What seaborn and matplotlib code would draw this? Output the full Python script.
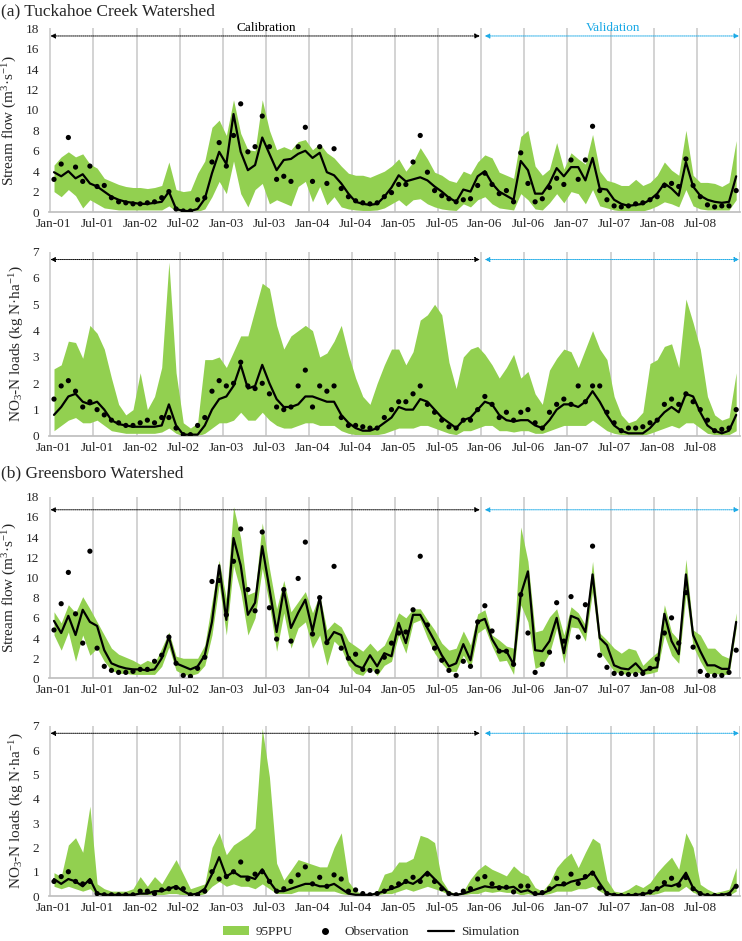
import numpy as np
import matplotlib.pyplot as plt
import seaborn as sns
from matplotlib.lines import Line2D
from matplotlib.patches import Patch

# month index 0 = Jan-01 ... 95 = Dec-08
tick_labels = ["Jan-01", "Jul-01", "Jan-02", "Jul-02", "Jan-03", "Jul-03", "Jan-04", "Jul-04",
               "Jan-05", "Jul-05", "Jan-06", "Jul-06", "Jan-07", "Jul-07", "Jan-08", "Jul-08"]

# (a) Tuckahoe Creek - stream flow
a_flow_obs = [3.2, 4.7, 7.3, 4.4, 3.0, 4.5, 2.5, 2.6, 1.4, 1.0, 0.9, 0.8,
              0.8, 0.9, 1.0, 1.4, 2.0, 0.3, 0.1, 0.1, 1.2, 1.4, 4.9, 6.8,
              4.5, 7.5, 10.6, 5.9, 6.4, 9.4, 6.4, 3.2, 3.5, 3.0, 6.4, 8.3,
              3.0, 6.4, 2.8, 6.2, 2.3, 1.5, 1.1, 0.9, 0.8, 0.9, 1.5, 1.9,
              2.7, 2.7, 4.9, 7.5, 3.9, 2.1, 1.6, 1.3, 1.0, 1.2, 1.3, 2.6,
              3.8, 2.7, 1.8, 2.1, 1.0, 5.8, 2.8, 1.0, 1.3, 2.4, 3.3, 2.7,
              5.1, 3.2, 5.1, 8.4, 2.1, 1.2, 0.6, 0.5, 0.6, 0.8, 0.9, 1.2,
              1.5, 2.6, 2.8, 2.5, 5.2, 2.6, 1.5, 0.7, 0.5, 0.6, 0.6, 2.1]
a_flow_sim = [3.9, 3.5, 4.0, 3.3, 3.7, 2.8, 2.5, 2.0, 1.5, 1.2, 1.0, 0.9,
              0.8, 0.8, 0.9, 1.0, 2.0, 0.3, 0.1, 0.1, 0.3, 1.3, 3.8, 5.9,
              4.7, 9.6, 5.9, 4.1, 4.6, 7.3, 5.7, 4.1, 5.1, 5.2, 5.7, 6.0,
              5.3, 5.8, 3.9, 3.6, 2.8, 1.8, 1.0, 0.8, 0.7, 0.8, 1.5, 2.4,
              3.6, 3.0, 3.2, 3.4, 3.1, 2.5, 2.0, 1.4, 1.0, 2.2, 2.0, 3.5,
              4.0, 2.8, 2.0, 1.6, 1.2, 5.0, 4.1, 1.8, 1.8, 2.8, 4.3, 3.5,
              4.4, 4.4, 3.1, 5.3, 2.3, 2.2, 1.2, 0.8, 0.6, 0.7, 0.8, 1.2,
              1.8, 2.8, 2.3, 1.6, 4.9, 2.5, 1.6, 1.2, 1.0, 0.9, 1.0, 3.5]
a_flow_hi = [4.6, 5.4, 5.9, 5.4, 5.7, 4.7, 4.3, 3.3, 3.0, 2.7, 2.5, 2.4,
             2.4, 2.3, 2.4, 2.6, 4.9, 2.2, 2.0, 2.1, 3.8, 5.0, 8.3, 9.0,
             7.5, 11.0, 7.7, 6.1, 6.0, 11.0, 8.0, 6.1, 6.4, 6.1, 6.9, 7.1,
             6.1, 6.7, 5.8, 5.3, 4.5, 3.8, 3.6, 3.6, 3.4, 3.7, 4.0, 4.5,
             5.2, 4.0, 4.9, 6.3, 5.2, 3.9, 3.6, 3.1, 2.9, 4.0, 3.7, 4.9,
             5.6, 5.3, 3.9, 3.6, 3.3, 7.4, 8.0, 4.5, 3.6, 4.2, 6.8, 4.2,
             5.8, 5.2, 4.7, 7.6, 4.0, 3.1, 2.9, 2.6, 2.6, 3.2, 2.6, 2.9,
             3.6, 4.9, 4.1, 3.6, 8.0, 3.6, 2.9, 2.9, 2.8, 2.5, 2.9, 7.0]
a_flow_lo = [2.0, 1.5, 2.2, 1.6, 0.4, 1.2, 0.8, 0.4, 0.3, 0.2, 0.2, 0.2,
             0.2, 0.2, 0.2, 0.2, 0.6, 0.05, 0.0, 0.0, 0.05, 0.3, 1.5, 3.0,
             1.8, 5.0, 1.8, 0.5, 2.2, 2.8, 0.8, 1.2, 0.9, 0.6, 2.5, 3.0,
             1.0, 2.5, 0.7, 1.5, 0.5, 0.3, 0.2, 0.15, 0.15, 0.2, 0.4, 0.8,
             1.2, 0.6, 1.2, 1.3, 0.8, 0.5, 0.3, 0.2, 0.15, 0.8, 0.5, 1.2,
             1.5, 0.8, 0.4, 0.3, 0.2, 1.8, 1.2, 0.3, 0.2, 0.9, 1.8, 0.9,
             2.0, 1.8, 0.8, 2.2, 0.6, 0.4, 0.2, 0.1, 0.1, 0.1, 0.1, 0.3,
             0.6, 1.0, 0.8, 0.5, 2.2, 0.6, 0.3, 0.2, 0.2, 0.2, 0.2, 1.2]

# (a) Tuckahoe Creek - NO3-N loads
a_no3_obs = [1.4, 1.9, 2.1, 1.7, 1.1, 1.3, 1.0, 0.8, 0.6, 0.5, 0.4, 0.4,
             0.5, 0.6, 0.5, 0.7, 0.7, 0.3, 0.05, 0.05, 0.4, 0.7, 1.7, 2.1,
             1.9, 2.0, 2.8, 1.9, 1.8, 2.0, 1.6, 1.1, 1.0, 1.1, 1.9, 2.5,
             1.1, 1.9, 1.7, 1.9, 0.7, 0.4, 0.4, 0.35, 0.3, 0.3, 0.7, 1.0,
             1.3, 1.3, 1.6, 1.9, 1.2, 0.9, 0.6, 0.35, 0.3, 0.6, 0.6, 1.0,
             1.5, 1.2, 0.7, 0.9, 0.6, 0.9, 1.0, 0.5, 0.3, 0.9, 1.2, 1.4,
             1.2, 1.9, 1.3, 1.9, 1.9, 0.9, 0.5, 0.2, 0.3, 0.3, 0.35, 0.5,
             0.6, 1.2, 1.4, 1.2, 1.6, 1.3, 1.0, 0.6, 0.2, 0.25, 0.3, 1.0]
a_no3_sim = [0.8, 1.1, 1.5, 1.6, 1.3, 1.2, 1.3, 1.0, 0.6, 0.45, 0.4, 0.35,
             0.35, 0.35, 0.35, 0.4, 1.2, 0.4, 0.05, 0.05, 0.05, 0.4, 1.0, 1.4,
             1.5, 1.9, 2.7, 1.8, 1.9, 2.7, 2.0, 1.4, 1.1, 1.1, 1.2, 1.5,
             1.5, 1.4, 1.3, 1.3, 0.8, 0.5, 0.3, 0.2, 0.2, 0.3, 0.5, 0.7,
             1.1, 1.0, 1.0, 1.4, 1.3, 1.0, 0.7, 0.5, 0.3, 0.6, 0.7, 1.0,
             1.3, 1.2, 0.8, 0.6, 0.55, 0.6, 0.6, 0.4, 0.3, 0.6, 1.0, 1.2,
             1.2, 1.1, 1.3, 1.7, 1.3, 0.8, 0.4, 0.2, 0.1, 0.1, 0.1, 0.3,
             0.6, 0.9, 1.1, 0.9, 1.6, 1.5, 0.9, 0.4, 0.2, 0.1, 0.2, 0.8]
a_no3_hi = [2.55, 2.7, 3.6, 3.55, 2.95, 4.2, 3.9, 3.3, 2.2, 1.2, 0.8, 1.0,
            2.4, 1.0, 1.5, 2.6, 6.6, 2.4, 0.5, 0.3, 0.5, 2.9, 2.9, 3.0,
            2.6, 3.2, 3.8, 3.8, 4.8, 5.8, 5.6, 4.2, 3.3, 3.8, 4.0, 4.2,
            4.0, 3.0, 3.15, 3.6, 4.2, 3.1, 2.2, 1.5, 1.2, 2.0, 2.7, 3.3,
            3.3, 2.7, 3.2, 4.4, 4.6, 5.0, 4.6, 2.8, 1.8, 3.0, 3.3, 3.4,
            3.1, 2.7, 2.2, 2.6, 3.1, 2.2, 2.45, 1.6, 1.2, 2.5, 2.95, 3.3,
            3.2, 2.6, 3.3, 4.0, 3.3, 2.9, 1.5, 0.8, 0.5, 0.6, 0.9, 2.75,
            2.9, 3.4, 3.5, 2.6, 5.2, 4.3, 3.3, 1.5, 0.8, 0.6, 0.7, 2.4]
a_no3_lo = [0.2, 0.4, 0.6, 0.7, 0.5, 0.5, 0.6, 0.4, 0.2, 0.15, 0.1, 0.1,
            0.1, 0.1, 0.1, 0.15, 0.3, 0.1, 0.0, 0.0, 0.0, 0.1, 0.3, 0.5,
            0.5, 0.6, 0.9, 0.6, 0.6, 0.9, 0.6, 0.4, 0.3, 0.3, 0.4, 0.5,
            0.5, 0.4, 0.4, 0.4, 0.2, 0.1, 0.05, 0.05, 0.05, 0.05, 0.1, 0.2,
            0.3, 0.3, 0.3, 0.4, 0.4, 0.3, 0.2, 0.1, 0.05, 0.2, 0.2, 0.3,
            0.4, 0.4, 0.2, 0.2, 0.15, 0.2, 0.2, 0.1, 0.1, 0.2, 0.3, 0.4,
            0.4, 0.4, 0.4, 0.6, 0.4, 0.2, 0.1, 0.05, 0.02, 0.02, 0.02, 0.1,
            0.2, 0.3, 0.4, 0.3, 0.5, 0.5, 0.3, 0.1, 0.05, 0.02, 0.05, 0.2]

# (b) Greensboro - stream flow
b_flow_obs = [4.8, 7.4, 10.5, 6.4, 3.5, 12.6, 3.0, 1.2, 0.8, 0.6, 0.6, 0.7,
              0.9, 0.9, 1.7, 2.3, 4.1, 1.5, 0.3, 0.2, 1.0, 2.1, 9.6, 9.7,
              6.3, 11.6, 14.8, 8.8, 6.7, 14.5, 7.0, 3.9, 8.8, 3.7, 9.9, 13.5,
              4.4, 8.0, 3.55, 11.1, 3.0, 2.0, 2.4, 0.9, 0.8, 0.7, 2.1, 3.5,
              4.5, 4.6, 6.8, 12.1, 5.3, 3.0, 1.8, 0.8, 0.3, 1.7, 1.2, 5.6,
              7.2, 4.7, 2.7, 2.7, 1.4, 8.3, 4.5, 0.6, 1.4, 2.6, 7.5, 3.7,
              8.1, 4.1, 7.3, 13.1, 2.3, 1.1, 0.5, 0.5, 0.4, 0.4, 0.5, 1.0,
              1.9, 4.5, 6.0, 3.5, 8.5, 3.1, 0.7, 0.3, 0.3, 0.3, 0.6, 2.8]
b_flow_sim = [5.7, 4.5, 6.2, 4.3, 6.8, 5.6, 5.2, 2.8, 1.5, 1.2, 1.0, 0.9,
              0.9, 0.8, 0.9, 2.0, 4.1, 1.5, 1.2, 0.9, 1.2, 2.3, 5.6, 11.2,
              5.8, 13.9, 11.2, 6.3, 7.5, 13.1, 8.9, 4.6, 8.8, 5.0, 6.5, 7.8,
              4.7, 8.0, 3.55, 4.6, 4.3, 2.1, 1.3, 1.0, 2.3, 1.2, 2.5, 2.2,
              5.5, 3.5, 6.3, 6.3, 5.0, 3.7, 2.3, 1.2, 1.5, 3.4, 1.8, 5.6,
              5.9, 3.9, 2.7, 2.7, 1.4, 8.3, 10.6, 2.8, 2.7, 3.7, 6.0, 2.5,
              6.2, 5.9, 4.6, 10.3, 4.0, 3.3, 1.3, 1.0, 0.9, 1.5, 0.7, 1.0,
              1.1, 6.4, 3.7, 2.4, 10.3, 4.3, 2.7, 1.3, 1.3, 0.95, 0.95, 5.6]
b_flow_hi = [6.6, 5.5, 7.3, 6.5, 8.1, 6.9, 5.6, 4.3, 3.0, 2.4, 2.1, 1.8,
             1.4, 1.8, 1.5, 3.0, 4.6, 2.2, 2.0, 2.0, 2.0, 3.3, 7.6, 11.7,
             7.9, 17.0, 13.9, 8.3, 8.6, 15.4, 10.9, 6.9, 9.7, 6.6, 7.6, 8.6,
             6.5, 8.3, 4.8, 5.6, 5.1, 3.7, 3.2, 2.7, 3.5, 2.7, 3.3, 4.8,
             6.5, 6.0, 6.9, 6.9, 5.8, 4.8, 3.5, 2.8, 3.0, 4.7, 3.3, 6.4,
             6.8, 4.3, 3.8, 3.2, 3.0, 15.0, 11.6, 4.6, 4.8, 6.1, 6.9, 4.3,
             7.1, 6.5, 5.3, 11.6, 4.5, 3.8, 3.0, 2.5, 3.0, 2.8, 1.3, 2.0,
             2.6, 7.3, 4.6, 3.8, 11.8, 4.8, 4.3, 3.0, 3.0, 2.3, 2.0, 6.5]
b_flow_lo = [4.3, 2.8, 4.6, 1.7, 4.3, 2.3, 3.0, 1.7, 0.8, 0.5, 0.5, 0.4,
             0.4, 0.4, 0.4, 1.2, 3.1, 0.8, 0.4, 0.3, 0.5, 1.3, 4.3, 9.3,
             4.3, 11.2, 8.6, 4.3, 6.0, 10.9, 7.3, 2.7, 6.5, 3.0, 5.0, 5.6,
             3.0, 4.3, 1.3, 3.7, 3.0, 1.3, 0.5, 0.3, 1.2, 0.3, 1.3, 1.7,
             4.3, 2.5, 5.5, 5.8, 4.0, 2.5, 1.5, 0.7, 0.7, 2.3, 1.0, 4.5,
             5.0, 3.2, 1.7, 1.8, 0.4, 7.3, 5.6, 1.0, 1.3, 2.5, 5.0, 1.5,
             5.1, 5.0, 3.7, 8.6, 2.7, 1.7, 0.7, 0.5, 0.4, 0.7, 0.4, 0.5,
             0.7, 4.3, 2.3, 1.5, 8.3, 3.2, 1.7, 0.5, 0.5, 0.4, 0.4, 5.0]

# (b) Greensboro - NO3-N loads
b_no3_obs = [0.6, 0.8, 1.0, 0.6, 0.5, 0.6, 0.1, 0.05, 0.05, 0.05, 0.05, 0.05,
             0.2, 0.2, 0.1, 0.25, 0.3, 0.35, 0.3, 0.05, 0.05, 0.2, 1.0, 0.7,
             0.8, 1.0, 1.4, 0.7, 0.9, 1.0, 0.6, 0.2, 0.3, 0.6, 0.87, 1.2,
             0.5, 0.77, 0.4, 0.87, 0.7, 0.2, 0.25, 0.1, 0.05, 0.1, 0.2, 0.35,
             0.5, 0.6, 0.77, 0.6, 0.9, 0.6, 0.3, 0.1, 0.05, 0.2, 0.3, 0.7,
             0.8, 0.5, 0.34, 0.36, 0.17, 0.41, 0.41, 0.1, 0.14, 0.3, 0.73, 0.5,
             0.9, 0.52, 0.8, 0.94, 0.33, 0.1, 0.03, 0.02, 0.02, 0.03, 0.07, 0.17,
             0.3, 0.55, 0.73, 0.45, 0.76, 0.3, 0.1, 0.02, 0.02, 0.02, 0.05, 0.4]
b_no3_sim = [0.7, 0.5, 0.7, 0.6, 0.4, 0.7, 0.1, 0.05, 0.05, 0.05, 0.05, 0.05,
             0.1, 0.1, 0.2, 0.2, 0.3, 0.4, 0.2, 0.05, 0.1, 0.3, 0.9, 1.6,
             0.8, 1.0, 0.8, 0.8, 0.7, 1.1, 0.6, 0.2, 0.2, 0.3, 0.4, 0.5,
             0.5, 0.4, 0.4, 0.5, 0.3, 0.1, 0.05, 0.05, 0.05, 0.1, 0.2, 0.3,
             0.4, 0.6, 0.5, 0.7, 1.0, 0.7, 0.4, 0.1, 0.05, 0.1, 0.2, 0.3,
             0.4, 0.35, 0.38, 0.33, 0.38, 0.17, 0.24, 0.07, 0.1, 0.24, 0.45, 0.45,
             0.59, 0.66, 0.73, 1.0, 0.52, 0.1, 0.05, 0.03, 0.03, 0.05, 0.08, 0.14,
             0.28, 0.45, 0.41, 0.52, 0.96, 0.33, 0.1, 0.02, 0.02, 0.05, 0.1, 0.45]
b_no3_hi = [0.96, 0.8, 2.1, 2.4, 1.8, 3.7, 0.5, 0.3, 0.2, 0.2, 0.2, 0.3,
            0.8, 0.4, 0.8, 0.5, 1.0, 1.5, 0.9, 0.3, 0.4, 0.5, 2.0, 2.6,
            1.7, 2.1, 2.3, 2.5, 2.8, 6.9, 4.9, 1.35, 0.66, 1.07, 1.5, 1.4,
            1.3, 1.2, 1.2, 2.0, 2.6, 0.6, 0.2, 0.1, 0.1, 0.2, 0.9, 1.0,
            1.4, 1.4, 1.55, 2.5, 2.4, 2.2, 0.66, 0.2, 0.1, 0.2, 0.7, 1.07,
            1.3, 1.1, 0.97, 0.83, 1.24, 0.97, 0.83, 0.35, 0.2, 0.55, 1.17, 1.52,
            1.77, 1.17, 1.8, 2.38, 2.17, 0.66, 0.2, 0.15, 0.28, 0.48, 0.35, 0.55,
            0.97, 1.3, 1.6, 1.1, 2.6, 2.0, 0.48, 0.28, 0.14, 0.2, 0.28, 1.17]
b_no3_lo = [0.4, 0.3, 0.4, 0.3, 0.2, 0.3, 0.05, 0.02, 0.02, 0.02, 0.02, 0.02,
            0.05, 0.05, 0.05, 0.05, 0.1, 0.1, 0.05, 0.02, 0.02, 0.1, 0.4, 0.6,
            0.4, 0.5, 0.4, 0.4, 0.3, 0.5, 0.3, 0.1, 0.1, 0.1, 0.2, 0.2,
            0.2, 0.2, 0.2, 0.2, 0.1, 0.05, 0.02, 0.02, 0.02, 0.05, 0.1, 0.1,
            0.2, 0.3, 0.2, 0.3, 0.4, 0.3, 0.2, 0.05, 0.02, 0.05, 0.1, 0.1,
            0.2, 0.15, 0.2, 0.15, 0.15, 0.05, 0.1, 0.02, 0.05, 0.1, 0.2, 0.2,
            0.2, 0.3, 0.3, 0.4, 0.2, 0.05, 0.02, 0.01, 0.01, 0.02, 0.03, 0.05,
            0.1, 0.2, 0.2, 0.2, 0.4, 0.15, 0.05, 0.01, 0.01, 0.02, 0.03, 0.2]

GREEN = "#92D050"
BLUE = "#1AA9E6"
GRID = "#D0D0D0"

sns.set_theme(style="white")
plt.rcParams["font.family"] = ["Liberation Serif", "DejaVu Serif"]
plt.rcParams["mathtext.fontset"] = "custom"
plt.rcParams["mathtext.rm"] = "Liberation Serif"

FLOW_LABEL = "Stream flow (m$\\mathregular{^3}$·s$\\mathregular{^{-1}}$)"
NO3_LABEL = "NO$\\mathregular{_3}$-N loads (kg N·ha$\\mathregular{^{-1}}$)"


def draw_panel(ax, obs, sim, lo, hi, ymax, ystep, ylabel, arrow_y, labels_on):
    x = np.arange(len(sim))
    ax.fill_between(x, lo, hi, color=GREEN, lw=0, zorder=1)
    sns.lineplot(x=x, y=sim, color="black", lw=1.6, ax=ax, zorder=3)
    sns.scatterplot(x=x, y=obs, color="black", s=14, edgecolor="none", ax=ax, zorder=4)

    ax.set_xlim(-0.7, 95.5)
    ax.set_ylim(0, ymax)
    ax.set_yticks(np.arange(0, ymax + 0.01, ystep))
    ax.set_xticks(np.arange(0, 96, 6))
    ax.set_xticklabels(tick_labels)
    for g in np.arange(-0.5, 96, 6):
        ax.axvline(g, color=GRID, lw=1.3, zorder=0)
    ax.tick_params(axis="both", length=0, labelsize=9.5)
    ax.tick_params(axis="y", pad=7)
    ax.tick_params(axis="x", pad=4)
    ax.set_ylabel(ylabel, fontsize=11, labelpad=5)
    ax.set_xlabel("")
    for s in ["left", "right", "top"]:
        ax.spines[s].set_visible(False)
    ax.spines["bottom"].set_color("#BFBFBF")

    # calibration / validation arrows
    ax.annotate("", xy=(-0.5, arrow_y), xytext=(59.3, arrow_y),
                arrowprops=dict(arrowstyle="<|-|>", color="black", lw=0.7,
                                linestyle=(0, (1, 1)), mutation_scale=7,
                                shrinkA=0, shrinkB=0))
    ax.annotate("", xy=(95.4, arrow_y), xytext=(60.0, arrow_y),
                arrowprops=dict(arrowstyle="<|-|>", color=BLUE, lw=0.7,
                                linestyle=(0, (1, 1)), mutation_scale=7,
                                shrinkA=0, shrinkB=0))
    if labels_on:
        ax.text(29.5, arrow_y + ymax * 0.012, "Calibration", ha="center", va="bottom",
                fontsize=9.5, color="black")
        ax.text(77.8, arrow_y + ymax * 0.012, "Validation", ha="center", va="bottom",
                fontsize=9.5, color=BLUE)


fig = plt.figure(figsize=(7.42, 9.41), dpi=100)
left, width = 0.066, 0.931
ax1 = fig.add_axes([left, 0.7747, width, 0.1952])
ax2 = fig.add_axes([left, 0.5367, width, 0.1959])
ax3 = fig.add_axes([left, 0.2790, width, 0.1932])
ax4 = fig.add_axes([left, 0.0478, width, 0.1807])

draw_panel(ax1, a_flow_obs, a_flow_sim, a_flow_lo, a_flow_hi, 18, 2, FLOW_LABEL, 17.25, True)
draw_panel(ax2, a_no3_obs, a_no3_sim, a_no3_lo, a_no3_hi, 7, 1, NO3_LABEL, 6.7, False)
draw_panel(ax3, b_flow_obs, b_flow_sim, b_flow_lo, b_flow_hi, 18, 2, FLOW_LABEL, 16.7, False)
draw_panel(ax4, b_no3_obs, b_no3_sim, b_no3_lo, b_no3_hi, 7, 1, NO3_LABEL, 6.7, False)

fig.text(0.002, 1 - 11 / 941, "(a) Tuckahoe Creek Watershed", fontsize=12.5, va="center", ha="left")
fig.text(0.002, 1 - 473 / 941, "(b) Greensboro Watershed", fontsize=12.5, va="center", ha="left")

handles = [Patch(facecolor=GREEN, edgecolor="none", label="95PPU"),
           Line2D([], [], marker="o", color="black", ls="none", markersize=4, label="Observation"),
           Line2D([], [], color="black", lw=1.6, label="Simulation")]
fig.legend(handles=handles, loc="center", bbox_to_anchor=(0.5, 1 - 932 / 941), ncol=3,
           frameon=False, fontsize=9.5, handlelength=2.0, columnspacing=1.4, handletextpad=0.5)

fig.savefig("out.png", dpi=100)
